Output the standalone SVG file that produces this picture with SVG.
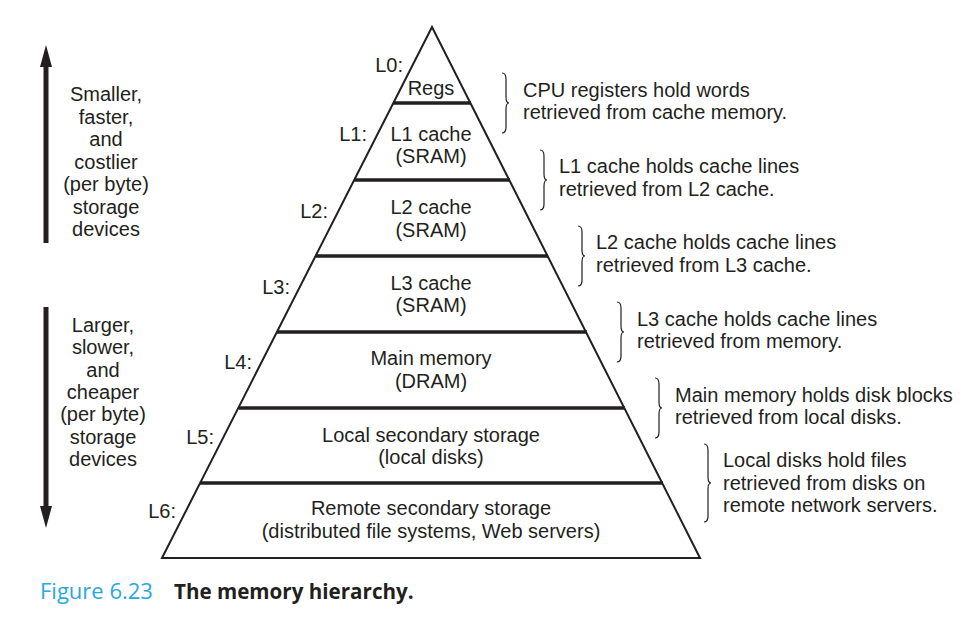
<svg xmlns="http://www.w3.org/2000/svg" width="972" height="637" viewBox="0 0 972 637">
<defs>
<style>
text{font-family:"Liberation Sans",Arial,sans-serif;font-size:20px;fill:#231f20}
.c{text-anchor:middle}
.r{text-anchor:end}
.tier{stroke:#231f20;stroke-width:3.5;fill:none}
.edge{stroke:#231f20;stroke-width:2;fill:none;stroke-linejoin:miter}
.brace{stroke:#231f20;stroke-width:1.2;fill:none}
.arr{stroke:#231f20;stroke-width:5}
.head{fill:#231f20}
</style>
</defs>
<rect width="972" height="637" fill="#fff"/>

<g id="pyramid">
<path class="edge" d="M432,27 L162,558 L700,558 Z"/>
</g>

<g id="connectors">
<line class="arr" x1="46" y1="243" x2="46" y2="66"/>
<path class="head" d="M40,67 L46,45 L52,67 Z"/>
<line class="arr" x1="46" y1="307" x2="46" y2="507"/>
<path class="head" d="M40,506 L46,528 L52,506 Z"/>
</g>

<g id="L0">
<line class="tier" x1="393" y1="103" x2="471" y2="103"/>
<text class="r" x="403" y="72">L0:</text>
<text class="c" x="431" y="95">Regs</text>
</g>
<g id="L1">
<line class="tier" x1="354" y1="180" x2="510" y2="180"/>
<text class="r" x="367" y="141">L1:</text>
<text class="c" x="431" y="141">L1 cache</text>
<text class="c" x="431" y="163">(SRAM)</text>
</g>
<g id="L2">
<line class="tier" x1="316" y1="256" x2="548" y2="256"/>
<text class="r" x="328" y="218">L2:</text>
<text class="c" x="431" y="214">L2 cache</text>
<text class="c" x="431" y="237">(SRAM)</text>
</g>
<g id="L3">
<line class="tier" x1="277" y1="332" x2="587" y2="332"/>
<text class="r" x="290" y="294">L3:</text>
<text class="c" x="431" y="290">L3 cache</text>
<text class="c" x="431" y="312">(SRAM)</text>
</g>
<g id="L4">
<line class="tier" x1="239" y1="408" x2="625" y2="408"/>
<text class="r" x="252" y="369">L4:</text>
<text class="c" x="431" y="365">Main memory</text>
<text class="c" x="431" y="388">(DRAM)</text>
</g>
<g id="L5">
<line class="tier" x1="200" y1="483" x2="663" y2="483"/>
<text class="r" x="214" y="444">L5:</text>
<text class="c" x="431" y="442">Local secondary storage</text>
<text class="c" x="431" y="464">(local disks)</text>
</g>
<g id="L6">
<text class="r" x="176" y="518">L6:</text>
<text class="c" x="431" y="515">Remote secondary storage</text>
<text class="c" x="431" y="538">(distributed file systems, Web servers)</text>
</g>

<g id="left-notes">
<text class="c" x="106" y="101">Smaller,</text>
<text class="c" x="106" y="124">faster,</text>
<text class="c" x="106" y="146">and</text>
<text class="c" x="106" y="169">costlier</text>
<text class="c" x="106" y="191">(per byte)</text>
<text class="c" x="106" y="214">storage</text>
<text class="c" x="106" y="236">devices</text>
<text class="c" x="103" y="332">Larger,</text>
<text class="c" x="103" y="354">slower,</text>
<text class="c" x="103" y="377">and</text>
<text class="c" x="103" y="399">cheaper</text>
<text class="c" x="103" y="421">(per byte)</text>
<text class="c" x="103" y="444">storage</text>
<text class="c" x="103" y="466">devices</text>
</g>

<g id="note0">
<path class="brace" d="M502,73 Q506,73 506,79 L506,97 Q506,103 509,103 Q506,103 506,109 L506,127 Q506,133 502,133"/>
<text x="523" y="97">CPU registers hold words</text>
<text x="523" y="119">retrieved from cache memory.</text>
</g>
<g id="note1">
<path class="brace" d="M540,150 Q544,150 544,156 L544,174 Q544,180 547,180 Q544,180 544,186 L544,204 Q544,210 540,210"/>
<text x="559" y="173">L1 cache holds cache lines</text>
<text x="559" y="196">retrieved from L2 cache.</text>
</g>
<g id="note2">
<path class="brace" d="M578,226 Q582,226 582,232 L582,250 Q582,256 585,256 Q582,256 582,262 L582,280 Q582,286 578,286"/>
<text x="596" y="249">L2 cache holds cache lines</text>
<text x="596" y="272">retrieved from L3 cache.</text>
</g>
<g id="note3">
<path class="brace" d="M617,302 Q621,302 621,308 L621,326 Q621,332 624,332 Q621,332 621,338 L621,356 Q621,362 617,362"/>
<text x="637" y="326">L3 cache holds cache lines</text>
<text x="637" y="348">retrieved from memory.</text>
</g>
<g id="note4">
<path class="brace" d="M655,378 Q659,378 659,384 L659,402 Q659,408 662,408 Q659,408 659,414 L659,432 Q659,438 655,438"/>
<text x="675" y="402">Main memory holds disk blocks</text>
<text x="675" y="424">retrieved from local disks.</text>
</g>
<g id="note5">
<path class="brace" d="M704,444 Q708,444 708,450 L708,477 Q708,483 711,483 Q708,483 708,489 L708,516 Q708,522 704,522"/>
<text x="723" y="467">Local disks hold files</text>
<text x="723" y="490">retrieved from disks on</text>
<text x="723" y="512">remote network servers.</text>
</g>

<g id="caption">
<text x="40" y="599" style="font-family:'Open Sans','Noto Sans',sans-serif;font-size:22px;fill:#29a8e0">Figure 6.23</text>
<text x="174" y="599" style="font-family:'Open Sans','Noto Sans',sans-serif;font-size:20.6px;font-weight:bold;fill:#231f20">The memory hierarchy.</text>
</g>
</svg>
